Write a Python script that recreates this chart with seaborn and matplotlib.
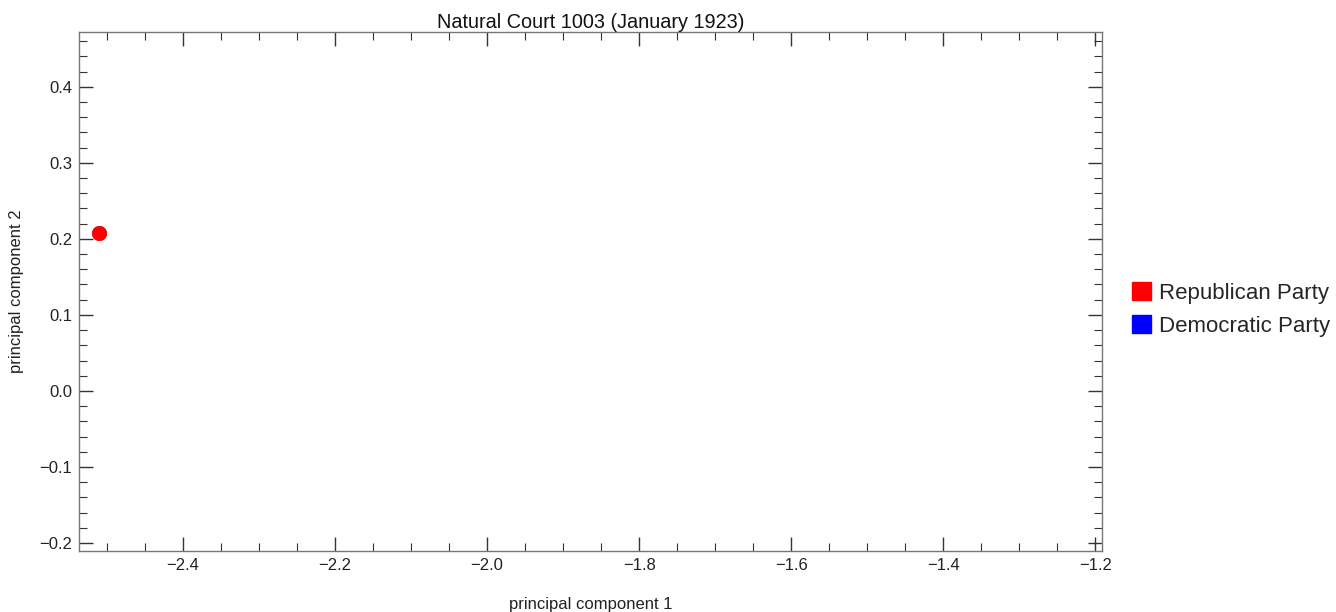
import matplotlib
matplotlib.use("Agg")
import matplotlib.pyplot as plt
import matplotlib.ticker as mticker
from matplotlib.patches import Patch
import pandas as pd
import seaborn as sns

# data
pc1 = [-2.510]
pc2 = [0.208]
party = ["Republican Party"]
party_order = ["Republican Party", "Democratic Party"]
party_colors = ["#ff0000", "#0000ff"]
title = "Natural Court 1003 (January 1923)"


def main() -> None:
    sns.set_style("white")
    plt.rcParams["font.family"] = ["Liberation Sans", "DejaVu Sans"]

    df = pd.DataFrame({"pc1": pc1, "pc2": pc2, "party": party})
    palette = dict(zip(party_order, party_colors))

    fig = plt.figure(figsize=(13.36, 6.12), dpi=100)
    ax = fig.add_axes([0.0591, 0.0997, 0.7658, 0.848])

    sns.scatterplot(data=df, x="pc1", y="pc2", hue="party", hue_order=party_order,
                    palette=palette, s=110, edgecolor="#cc0000", linewidth=0.5,
                    legend=False, ax=ax, zorder=3)

    ax.set_xlim(-2.537, -1.191)
    ax.set_ylim(-0.2105, 0.472)
    ax.xaxis.set_major_locator(mticker.MultipleLocator(0.2))
    ax.xaxis.set_minor_locator(mticker.MultipleLocator(0.05))
    ax.yaxis.set_major_locator(mticker.MultipleLocator(0.1))
    ax.yaxis.set_minor_locator(mticker.MultipleLocator(0.02))
    fmt = mticker.FuncFormatter(lambda v, p: f"{v:.1f}".replace("-", "\u2212"))
    ax.xaxis.set_major_formatter(fmt)
    ax.yaxis.set_major_formatter(fmt)

    for sp in ax.spines.values():
        sp.set_color("#777777")
        sp.set_linewidth(1.0)
    ax.tick_params(which="both", direction="in", bottom=True, left=True, top=True, right=True,
                   color="#333333", labelsize=12, labelcolor="#222222")
    ax.tick_params(which="major", length=10, width=1.0, pad=5)
    ax.tick_params(which="minor", length=6, width=0.8)

    ax.set_xlabel("principal component 1", fontsize=12, color="#222222")
    ax.xaxis.set_label_coords(0.5, -0.088)
    ax.set_ylabel("principal component 2", fontsize=12, color="#222222")
    ax.yaxis.set_label_coords(-0.054, 0.5)
    ax.set_title(title, fontsize=14.3, color="#111111", pad=3)

    handles = [Patch(facecolor=c, edgecolor=c, label=l) for l, c in zip(party_order, party_colors)]
    fig.legend(handles=handles, loc="center left", bbox_to_anchor=(0.8406, 0.4942),
               frameon=False, fontsize=16, handlelength=0.85, handleheight=0.85,
               handletextpad=0.36, labelspacing=0.52, borderaxespad=0)

    fig.savefig("out.png", dpi=100)
    plt.close(fig)


if __name__ == "__main__":
    main()
